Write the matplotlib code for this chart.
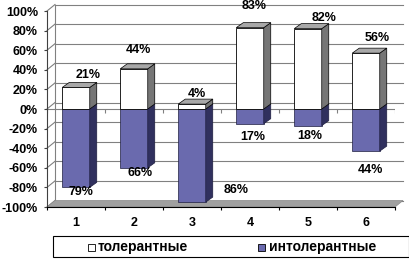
import matplotlib
matplotlib.use("Agg")
import matplotlib.pyplot as plt
from matplotlib.patches import Polygon, Rectangle

plt.rcParams['font.family'] = ['Liberation Sans', 'DejaVu Sans']
plt.rcParams['font.weight'] = 'bold'

# data (bar heights as drawn, labels as printed on the chart)
categories = ["1", "2", "3", "4", "5", "6"]
tolerant = [22, 41, 5, 83, 82, 57]
intolerant = [80, 60, 95, 15, 17, 43]
tolerant_labels = ["21%", "44%", "4%", "83%", "82%", "56%"]
intolerant_labels = ["79%", "66%", "86%", "17%", "18%", "44%"]
y_ticks = list(range(-100, 101, 20))
series_names = ["толерантные", "интолерантные"]

# label nudges relative to the bar ends (x in categories, y in %)
tol_dx = [0.21, 0.07, 0.09, 0.07, 0.28, 0.19]
tol_dy = [13, 19, 10, 22, 11, 15]
int_dx = [0.09, 0.10, 0.76, 0.04, 0.03, 0.08]
int_dy = [-5, -5, 12, -13.5, -10.5, -19]

WHITE = "#ffffff"
BLUE = "#6a6aae"
BLUE_SIDE = "#30305e"
GRAY_SIDE = "#767676"
GRAY_TOP = "#a8a8a8"
GRID = "#808080"

W, H = 410, 259
fig = plt.figure(figsize=(W / 100, H / 100), dpi=100)


def fx(px):
    return px / W


def fy(py):
    return 1 - py / H


ax = fig.add_axes([fx(47), fy(207), fx(395) - fx(47), fy(11) - fy(207)])
ax.set_xlim(0.5, 6.5)
ax.set_ylim(-100, 100)

# 3d depth offsets
dxw, dyw = 8 / 58, 6.5 / 0.98   # walls
dxb, dyb = 7 / 58, 5 / 0.98     # bars
bw = 0.474

# back wall, side wall and floor
for v in y_ticks:
    ax.plot([0.5 + dxw, 6.5 + dxw], [v + dyw, v + dyw], color=GRID, lw=0.8,
            clip_on=False, zorder=1)
    ax.plot([0.5, 0.5 + dxw], [v, v + dyw], color=GRID, lw=0.8,
            clip_on=False, zorder=1)
ax.plot([0.5 + dxw, 0.5 + dxw], [-100 + dyw, 100 + dyw], color=GRID, lw=0.8,
        clip_on=False, zorder=1)
floor = Polygon([(0.5, -100), (6.5, -100), (6.5 + dxw, -100 + dyw),
                 (0.5 + dxw, -100 + dyw)], closed=True, facecolor="#a0a0a0",
                edgecolor="#8a8a8a", lw=0.5, clip_on=False, zorder=1.5)
ax.add_patch(floor)

# front zero line with category separators
bounds = [k + 0.5 for k in range(0, 7)]
ax.plot([0.5, 6.5], [0, 0], color=GRID, lw=0.8, zorder=2)
ax.vlines(bounds, -4, 0, color=GRID, lw=0.8, zorder=2)

x = list(range(1, len(categories) + 1))
ax.bar(x, [-v for v in intolerant], width=bw, color=BLUE,
       edgecolor="#1e1e40", lw=0.5, zorder=3)
ax.bar(x, tolerant, width=bw, color=WHITE, edgecolor="#000000", lw=0.6,
       zorder=3)

for xi, p, n in zip(x, tolerant, intolerant):
    r = xi + bw / 2
    l = xi - bw / 2
    ax.add_patch(Polygon([(r, -n), (r + dxb, -n + dyb), (r + dxb, dyb), (r, 0)],
                         closed=True, facecolor=BLUE_SIDE, edgecolor="#1e1e40",
                         lw=0.5, zorder=3))
    ax.add_patch(Polygon([(r, 0), (r + dxb, dyb), (r + dxb, p + dyb), (r, p)],
                         closed=True, facecolor=GRAY_SIDE, edgecolor="#000000",
                         lw=0.5, zorder=3))
    ax.add_patch(Polygon([(l, p), (r, p), (r + dxb, p + dyb), (l + dxb, p + dyb)],
                         closed=True, facecolor=GRAY_TOP, edgecolor="#000000",
                         lw=0.5, zorder=3))

for xi, p, n, tl, il, a, b, c, d in zip(x, tolerant, intolerant,
                                        tolerant_labels, intolerant_labels,
                                        tol_dx, tol_dy, int_dx, int_dy):
    ax.text(xi + a, p + b, tl, ha="center", va="center", fontsize=9,
            zorder=5, clip_on=False)
    ax.text(xi + c, -n + d, il, ha="center", va="center", fontsize=9,
            zorder=5, clip_on=False)

ax.set_yticks(y_ticks, [f"{v}%" for v in y_ticks])
ax.set_xticks(x, categories)
ax.set_xticks(bounds, minor=True)
ax.tick_params(axis="y", length=2, pad=4.5, labelsize=9, color="#404040",
               width=0.8)
ax.tick_params(axis="x", which="major", length=0, pad=7.5, labelsize=9)
ax.tick_params(axis="x", which="minor", length=2.5, direction="out",
               color="#000000", width=0.8)
for s in ("top", "right"):
    ax.spines[s].set_visible(False)
ax.spines["bottom"].set_color("#000000")
ax.spines["bottom"].set_linewidth(0.8)
ax.spines["left"].set_color("#404040")
ax.spines["left"].set_linewidth(0.8)

# legend box along the bottom
fig.add_artist(Rectangle((fx(53), fy(257)), fx(409) - fx(53), fy(236) - fy(257),
                         transform=fig.transFigure, facecolor="white",
                         edgecolor="black", lw=0.8))
for (sx, tx), name, col in zip([(88, 98), (258, 269)], series_names,
                               [WHITE, BLUE]):
    fig.add_artist(Rectangle((fx(sx), fy(251)), fx(7), fy(0) - fy(7),
                             transform=fig.transFigure, facecolor=col,
                             edgecolor="black", lw=0.6))
    fig.text(fx(tx), fy(247.5), name, ha="left", va="center", fontsize=10,
             fontweight="bold")

fig.savefig("out.png", dpi=100)
